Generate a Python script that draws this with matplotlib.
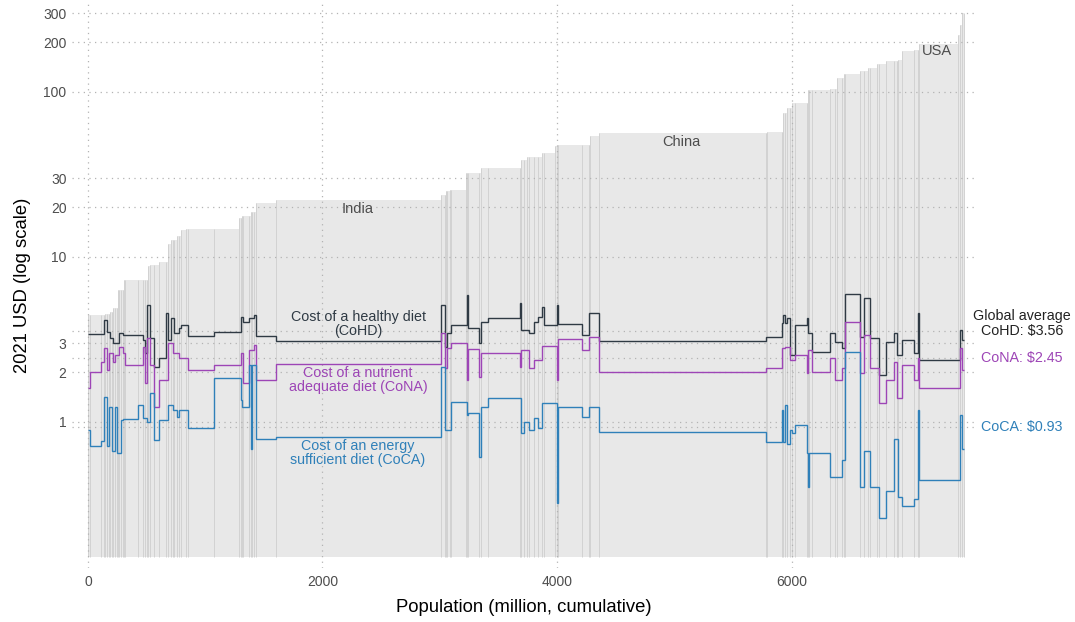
import numpy as np
import matplotlib.pyplot as plt
from matplotlib.ticker import NullLocator

plt.rcParams['font.family'] = ['Liberation Sans', 'DejaVu Sans']

# Countries sorted by daily income, width = population (million)
pop = [17, 94, 26, 9, 17, 17, 9, 17, 9, 17,
       17, 9, 9, 17, 17, 9, 9, 111, 43, 17,
       17, 9, 17, 26, 43, 60, 17, 26, 17, 9,
       26, 17, 17, 43, 17, 222, 213, 17, 9, 9,
       51, 17, 9, 17, 17, 171, 1407, 34, 9, 9,
       26, 9, 128, 9, 9, 94, 17, 60, 273, 9,
       26, 26, 9, 51, 34, 26, 17, 94, 17, 9,
       205, 60, 9, 77, 1425, 9, 128, 9, 17, 17,
       26, 17, 26, 102, 9, 9, 26, 154, 43, 17,
       43, 17, 9, 128, 34, 34, 17, 60, 17, 60,
       68, 26, 9, 34, 102, 34, 9, 333, 17, 17, 9]

income = [4.45, 4.45, 4.45, 4.45, 4.51, 4.51, 4.51, 4.64, 4.64, 4.91,
          4.91, 4.91, 6.31, 6.31, 6.31, 6.31, 7.26, 7.26, 7.26, 7.26,
          7.26, 7.26, 8.82, 8.95, 8.95, 9.33, 9.33, 12.0, 12.7, 12.7,
          12.7, 13.4, 13.4, 14.6, 14.8, 14.8, 14.8, 17.2, 17.2, 17.7,
          17.7, 17.7, 18.7, 18.7, 18.7, 21.2, 22.2, 23.8, 23.8, 25.1,
          25.1, 25.5, 25.5, 32.3, 32.3, 32.3, 32.3, 34.6, 34.6, 34.6,
          38.7, 38.7, 40.4, 40.4, 40.4, 40.4, 42.7, 42.7, 47.1, 47.1,
          47.7, 47.7, 47.7, 54.1, 56.4, 56.4, 57.2, 57.2, 74.6, 74.6,
          80, 80, 86, 86, 86, 103, 103, 103, 104, 104,
          122, 122, 129, 129, 134, 134, 140, 140, 148, 148,
          154, 154, 154, 156, 177, 180, 180, 195, 221, 255, 301]

cohd = [3.41, 3.41, 3.41, 4.15, 4.15, 3.51, 3.51, 3.23, 3.23, 3.01,
        3.01, 3.01, 3.01, 3.46, 3.46, 3.37, 3.37, 3.37, 3.37, 3.14,
        2.62, 5.12, 5.12, 3.23, 2.15, 2.44, 4.58, 3.14, 4.27, 4.27,
        3.46, 3.46, 3.71, 3.87, 3.87, 3.32, 3.51, 3.51, 4.33, 4.33,
        4.04, 4.27, 4.27, 4.27, 4.45, 3.32, 3.10, 5.12, 2.85, 2.85,
        3.46, 3.46, 3.87, 3.87, 5.89, 3.71, 3.01, 4.04, 4.27, 5.26,
        3.61, 3.61, 3.61, 3.46, 4.04, 4.33, 4.98, 3.87, 3.87, 5.12,
        3.93, 3.37, 4.58, 4.58, 3.10, 3.27, 3.27, 3.98, 4.45, 3.98,
        4.27, 2.55, 2.55, 3.87, 4.27, 3.46, 3.46, 2.66, 3.46, 3.05,
        3.05, 2.81, 2.81, 5.97, 3.27, 5.64, 5.64, 3.23, 3.23, 1.93,
        3.05, 3.46, 2.55, 2.55, 3.14, 2.62, 4.58, 2.37, 2.37, 3.61, 3.14]

cona = [1.61, 2.01, 2.31, 2.81, 2.81, 2.07, 2.62, 2.62, 2.62, 2.31,
        2.55, 2.55, 2.55, 2.85, 2.85, 2.62, 2.62, 2.21, 2.21, 2.85,
        1.72, 3.23, 3.23, 2.21, 1.22, 1.80, 1.80, 3.01, 3.01, 2.62,
        2.62, 2.62, 2.44, 2.44, 2.44, 2.07, 2.21, 2.21, 2.62, 2.62,
        1.72, 2.73, 2.73, 2.73, 2.93, 1.80, 2.25, 3.46, 2.12, 2.12,
        2.81, 2.81, 3.01, 3.01, 1.80, 2.77, 1.87, 2.62, 2.62, 2.15,
        2.73, 2.73, 2.73, 2.12, 2.37, 2.37, 2.89, 2.89, 2.89, 1.80,
        3.18, 2.73, 3.27, 3.27, 2.01, 2.12, 2.12, 2.81, 2.81, 2.85,
        2.85, 2.37, 2.37, 2.55, 1.98, 2.73, 2.73, 2.01, 2.44, 1.80,
        1.80, 2.12, 2.12, 4.04, 1.98, 3.37, 3.37, 2.12, 2.12, 1.30,
        1.80, 2.31, 1.40, 1.40, 2.21, 1.80, 2.44, 1.61, 1.61, 2.81, 2.07]

coca = [0.89, 0.71, 0.76, 1.42, 1.42, 0.71, 1.23, 1.23, 0.66, 0.66,
        1.22, 0.65, 0.65, 0.65, 1.03, 1.04, 1.04, 1.04, 1.27, 1.06,
        1.06, 0.99, 0.99, 1.50, 0.78, 1.03, 1.03, 1.27, 1.27, 1.18,
        1.18, 1.07, 1.18, 1.18, 1.18, 0.92, 1.85, 1.85, 1.36, 1.23,
        1.23, 2.21, 0.68, 2.21, 2.21, 0.79, 0.81, 2.15, 0.89, 0.89,
        0.89, 0.89, 1.32, 1.32, 1.10, 1.13, 0.61, 1.23, 1.40, 1.40,
        0.86, 0.99, 0.99, 0.89, 1.06, 0.92, 1.30, 1.30, 1.30, 0.32,
        1.23, 1.07, 1.23, 1.23, 0.87, 0.75, 0.75, 1.18, 0.75, 1.27,
        0.73, 0.89, 0.86, 0.96, 0.65, 0.40, 0.65, 0.65, 0.46, 0.46,
        0.46, 0.59, 0.59, 2.66, 0.40, 0.66, 0.66, 0.40, 0.40, 0.26,
        0.38, 0.79, 0.79, 0.35, 0.31, 0.34, 1.18, 0.445, 0.445, 1.10, 0.68]

avg_cohd, avg_cona, avg_coca = 3.56, 2.45, 0.93

c_hd = '#2f3a44'
c_na = '#9d45b6'
c_ca = '#2f80b9'
grid_kw = dict(color='#b3b3b3', linestyle=(0, (1, 3.5)), linewidth=0.9)

edges = np.concatenate([[0], np.cumsum(pop)])
base = 0.152

fig = plt.figure(figsize=(10.75, 6.22), dpi=100)
ax = fig.add_axes([0.067, 0.087, 0.84, 0.91])
ax.set_yscale('log')

# income area, one bar per country, with thin borders between countries
inc = np.array(income)
ax.bar(edges[:-1], inc - base, width=pop, bottom=base, align='edge',
       color='#e8e8e8', linewidth=0, zorder=1)
border_top = np.maximum(np.r_[inc[0], inc], np.r_[inc, inc[-1]])
ax.vlines(edges, base, border_top, color='#d2d2d2', linewidth=0.7, zorder=1.2)

# diet cost step lines
ax.stairs(cohd, edges, baseline=None, color=c_hd, linewidth=1.0, zorder=3)
ax.stairs(cona, edges, baseline=None, color=c_na, linewidth=1.0, zorder=3)
ax.stairs(coca, edges, baseline=None, color=c_ca, linewidth=1.0, zorder=3)

yticks = [1, 2, 3, 10, 20, 30, 100, 200, 300]
xticks = [0, 2000, 4000, 6000]
for y in yticks + [avg_cohd, avg_cona, avg_coca]:
    ax.axhline(y, zorder=2, **grid_kw)
for x in xticks:
    ax.axvline(x, zorder=2, **grid_kw)

ax.set_xlim(-136, 7565)
ax.set_ylim(0.13, 351)
ax.set_yticks(yticks)
ax.set_yticklabels([str(t) for t in yticks])
ax.yaxis.set_minor_locator(NullLocator())
ax.set_xticks(xticks)
ax.set_xticklabels([str(t) for t in xticks])
ax.tick_params(length=0, labelsize=10, labelcolor='#4d4d4d')
ax.tick_params(axis='x', pad=5)
ax.tick_params(axis='y', pad=4)
for s in ax.spines.values():
    s.set_visible(False)

ax.set_xlabel('Population (million, cumulative)', fontsize=13.3, labelpad=7)
ax.set_ylabel('2021 USD (log scale)', fontsize=13.3, labelpad=9)

# country labels
lab_kw = dict(ha='center', va='center', fontsize=10.5, color='#4d4d4d')
ax.text(2303, 19.5, 'India', **lab_kw)
ax.text(5058, 49.8, 'China', **lab_kw)
ax.text(7241, 177, 'USA', **lab_kw)

# series labels
ax.text(2303, 3.9, 'Cost of a healthy diet\n(CoHD)', ha='center', va='center',
        fontsize=10.3, color=c_hd, linespacing=1.0, zorder=4)
ax.text(2303, 1.80, 'Cost of a nutrient\nadequate diet (CoNA)', ha='center',
        va='center', fontsize=10.3, color=c_na, linespacing=1.0, zorder=4)
ax.text(2303, 0.65, 'Cost of an energy\nsufficient diet (CoCA)', ha='center',
        va='center', fontsize=10.3, color=c_ca, linespacing=1.0, zorder=4)

# global averages at the right
ax.text(7966, 4.39, 'Global average', ha='center', va='center',
        fontsize=10.3, color='#222222', clip_on=False)
ax.text(7966, avg_cohd, f'CoHD: ${avg_cohd:.2f}', ha='center', va='center',
        fontsize=10.3, color='#222222', clip_on=False)
ax.text(7966, avg_cona, f'CoNA: ${avg_cona:.2f}', ha='center', va='center',
        fontsize=10.3, color=c_na, clip_on=False)
ax.text(7966, avg_coca, f'CoCA: ${avg_coca:.2f}', ha='center', va='center',
        fontsize=10.3, color=c_ca, clip_on=False)

fig.savefig('out.png', dpi=100)
